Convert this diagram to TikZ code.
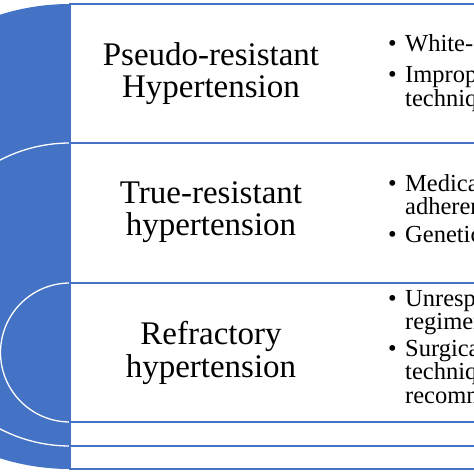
\documentclass[tikz,border=0pt]{standalone}
\usepackage{fontspec}
\setmainfont{Liberation Serif}
\definecolor{hblue}{HTML}{4472C4}
\tikzset{
 lefttxt/.style={anchor=base, font=\fontsize{33}{33}\selectfont, inner sep=0pt},
 righttxt/.style={anchor=base west, font=\fontsize{24.5}{25}\selectfont, inner sep=0pt},
 bul/.style={anchor=base, font=\fontsize{24.5}{25}\selectfont, inner sep=0pt},
 rowbox/.style={draw=hblue, line width=1.4pt, fill=white},
 arcshape/.style={fill=hblue, draw=white, line width=1.3pt}
}
\begin{document}
\begin{tikzpicture}[x=1pt,y=1pt]
\useasboundingbox (0,0) rectangle (474,474);
\clip (0,0) rectangle (474,474);
\fill[white] (0,0) rectangle (474,474);
% nested half-discs
\fill[hblue] (70,470) arc[start angle=90,end angle=270,radius=232.5] -- cycle;
\draw[arcshape] (70,331) arc[start angle=90,end angle=270,radius=151.5] -- cycle;
\draw[arcshape] (70,191) arc[start angle=90,end angle=270,radius=69.5] -- cycle;
% row boxes
\draw[rowbox] (70,331) rectangle (490,470);
\draw[rowbox] (70,191) rectangle (490,331);
\draw[rowbox] (70,52) rectangle (490,191);
\draw[rowbox] (70,28) rectangle (490,52);
\draw[rowbox] (70,5) rectangle (490,28);
% left labels
\node[lefttxt] (p1) at (211,408) {Pseudo-resistant};
\node[lefttxt] (p2) at (211,376) {Hypertension};
\node[lefttxt] (t1) at (211,270) {True-resistant};
\node[lefttxt] (t2) at (211,238) {hypertension};
\node[lefttxt] (r1) at (211,129) {Refractory};
\node[lefttxt] (r2) at (211,96) {hypertension};
% right bullets
\node[bul] (b1) at (392.5,422) {•};
\node[righttxt] (a1) at (405,422) {White-coat};
\node[bul] (b2) at (392.5,391) {•};
\node[righttxt] (a2) at (405,391) {Improper};
\node[righttxt] (a3) at (405,367) {technique};
\node[bul] (b3) at (392.5,282) {•};
\node[righttxt] (c1) at (405,282) {Medication};
\node[righttxt] (c2) at (405,259) {adherence};
\node[bul] (b4) at (392.5,231) {•};
\node[righttxt] (c3) at (405,231) {Genetic};
\node[bul] (b5) at (392.5,167) {•};
\node[righttxt] (d1) at (405,167) {Unresponsive};
\node[righttxt] (d2) at (405,144) {regimen};
\node[bul] (b6) at (392.5,117) {•};
\node[righttxt] (d3) at (405,117) {Surgical};
\node[righttxt] (d4) at (405,94) {technique};
\node[righttxt] (d5) at (405,70) {recommended};
\end{tikzpicture}
\end{document}
